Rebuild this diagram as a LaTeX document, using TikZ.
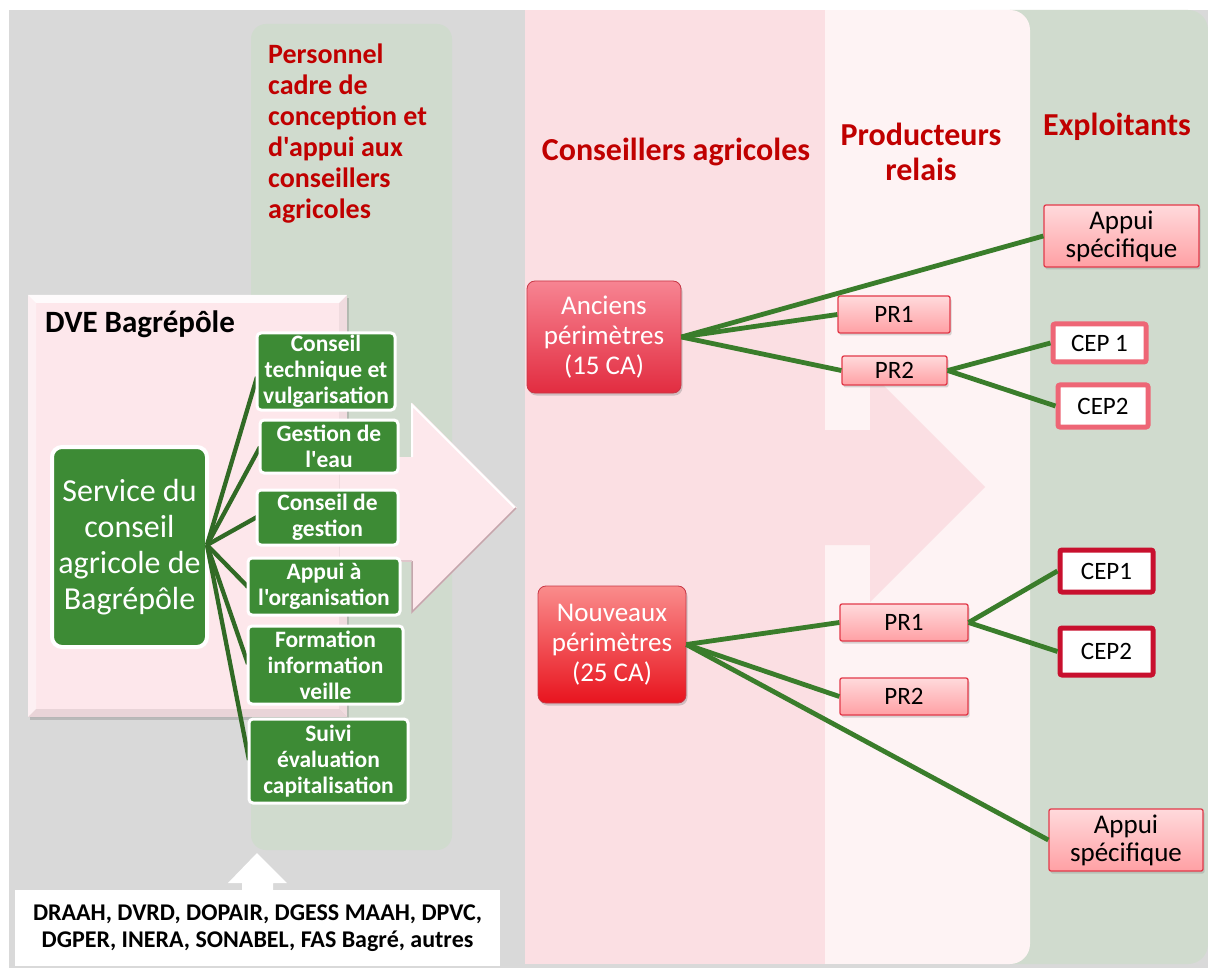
\documentclass[tikz,border=0pt]{standalone}
\usepackage{fontspec}
\setmainfont{Carlito}[Ligatures=TeXOff]
\usetikzlibrary{shadows}
\definecolor{bggrey}{RGB}{217,217,217}
\definecolor{sage}{RGB}{208,219,206}
\definecolor{pinkcol}{RGB}{251,223,227}
\definecolor{lightcol}{RGB}{254,243,244}
\definecolor{headred}{RGB}{192,0,0}
\definecolor{boxgreen}{RGB}{61,139,53}
\definecolor{linegreen}{RGB}{58,125,43}
\definecolor{dvepink}{RGB}{253,231,235}
\definecolor{arrowpink}{RGB}{253,232,236}
\definecolor{arrowedge}{RGB}{196,166,172}
\definecolor{anctop}{RGB}{247,132,146}
\definecolor{ancbot}{RGB}{226,44,64}
\definecolor{noutop}{RGB}{250,140,140}
\definecolor{noubot}{RGB}{232,20,30}
\definecolor{caedge}{RGB}{200,55,70}
\definecolor{prtop}{RGB}{255,218,220}
\definecolor{prbot}{RGB}{255,160,164}
\definecolor{predge}{RGB}{226,58,74}
\definecolor{ceplight}{RGB}{238,102,118}
\definecolor{cepdark}{RGB}{200,16,46}
\newcommand\fs[2]{\fontsize{#1}{#2}\selectfont}
\begin{document}
\begin{tikzpicture}[x=1pt,y=-1pt,
  gbox/.style={draw=white, line width=3pt, fill=boxgreen, rounded corners=4pt, text=white,
    font=\bfseries\fs{23.5}{26}, align=center, inner sep=0pt},
  head/.style={text=headred, font=\bfseries\fs{32}{35}, align=center, inner sep=0pt},
  ca/.style={rounded corners=8pt, text=white, font=\fs{27}{30}, align=center, draw=caedge,
    line width=0.8pt, inner sep=0pt, drop shadow={shadow xshift=1.5pt, shadow yshift=-2.5pt, opacity=0.35}},
  anc/.style={ca, top color=anctop, bottom color=ancbot},
  nou/.style={ca, top color=noutop, bottom color=noubot},
  prbox/.style={rounded corners=2pt, draw=predge, line width=1.3pt, top color=prtop, bottom color=prbot,
    font=\fs{25}{28}, align=center, inner sep=0pt,
    drop shadow={shadow xshift=1.5pt, shadow yshift=-2.5pt, opacity=0.3}},
  cepa/.style={draw=ceplight, line width=5pt, fill=white, rounded corners=2pt, font=\fs{25}{28}, inner sep=0pt},
  cepb/.style={draw=cepdark, line width=5pt, fill=white, rounded corners=2pt, font=\fs{25}{28}, inner sep=0pt},
  conn/.style={draw=linegreen, line width=4.8pt},
  lconn/.style={draw=linegreen!85!black, line width=4.3pt}
]
\useasboundingbox (0,0) rectangle (1208,968);
\fill[white] (0,0) rectangle (1208,968);
\fill[bggrey] (9,10) rectangle (1208,968);
% columns
\fill[sage, rounded corners=15pt] (251,24) rectangle (452,850);
\fill[sage, rounded corners=20pt] (990,10) rectangle (1208,964);
\fill[pinkcol] (525,10) rectangle (830,964);
\fill[lightcol] (825,10) rectangle (1000,964);
\fill[lightcol, rounded corners=20pt] (950,10) rectangle (1030,964);
\fill[pinkcol] (824,430) -- (870,430) -- (870,372) -- (985,487) -- (870,602) -- (870,545) -- (824,545) -- cycle;

% headings
\node[anchor=north west, text=headred, font=\bfseries\fs{28}{31}, align=left, inner sep=0pt] (perso) at (268,44)
  {Personnel\\cadre de\\conception et\\d'appui aux\\conseillers\\agricoles};
\node[head] (hca) at (676,152) {Conseillers agricoles};
\node[head] (hpr) at (921,152) {Producteurs\\relais};
\node[head] (hex) at (1117,127) {Exploitants};

% DVE box
\node[fill=dvepink, minimum width=319pt, minimum height=422pt, inner sep=0pt,
  drop shadow={shadow xshift=2pt, shadow yshift=-3pt, opacity=0.35}] (dve) at (187.5,506) {};
\fill[white, opacity=.85] (28,295) -- (347,295) -- (339,303) -- (36,303) -- cycle;
\fill[white, opacity=.4] (28,295) -- (36,303) -- (36,709) -- (28,717) -- cycle;
\fill[black, opacity=.05] (347,295) -- (339,303) -- (339,709) -- (347,717) -- cycle;
\fill[black, opacity=.08] (28,717) -- (36,709) -- (339,709) -- (347,717) -- cycle;
\node[anchor=west, font=\bfseries\fs{31}{34}, inner sep=0pt] (dvelabel) at (45,324) {DVE Bagrépôle};

% big arrow
\fill[arrowpink] (340,457) -- (412,457) -- (412,403) -- (517,508) -- (412,613) -- (412,560) -- (340,560) -- cycle;
\draw[white, line width=2pt] (412,457) -- (412,405) -- (515,508);
\draw[arrowedge, line width=1.5pt] (516,508) -- (412,612) -- (412,561);
\draw[arrowedge!50!arrowpink, line width=2pt] (412,561) -- (340,561);

% service box
\node[draw=white, line width=4pt, fill=boxgreen, rounded corners=10pt, text=white, font=\fs{32}{36},
  align=center, minimum width=155pt, minimum height=200pt, inner sep=0pt] (svc) at (129.5,547)
  {Service du\\conseil\\agricole de\\Bagrépôle};

% green boxes (positions)
\coordinate (g1) at (326,371.5);
\coordinate (g2) at (329,446.5);
\coordinate (g3) at (327.5,517.5);
\coordinate (g4) at (324,586.5);
\coordinate (g5) at (325.5,665);
\coordinate (g6) at (328.5,761);
\coordinate (hub) at (207,545);
\draw[lconn] (hub) -- (257,377);
\draw[lconn] (hub) -- (260,447);
\draw[lconn] (hub) -- (257,517);
\draw[lconn] (hub) -- (248,587);
\draw[lconn] (hub) -- (248,664);
\draw[lconn] (hub) -- (249,760);
\node[gbox, minimum width=138pt, minimum height=77pt] (b1) at (g1) {Conseil\\technique et\\vulgarisation};
\node[gbox, minimum width=138pt, minimum height=53pt] (b2) at (g2) {Gestion de\\l'eau};
\node[gbox, minimum width=141pt, minimum height=55pt] (b3) at (g3) {Conseil de\\gestion};
\node[gbox, minimum width=152pt, minimum height=57pt] (b4) at (g4) {Appui à\\l'organisation};
\node[gbox, minimum width=155pt, minimum height=78pt] (b5) at (g5) {Formation\\information\\veille};
\node[gbox, minimum width=159pt, minimum height=84pt] (b6) at (g6) {Suivi\\évaluation\\capitalisation};

% bottom organisations
\fill[white] (228,883) -- (257,853) -- (287,883) -- (273,883) -- (273,891) -- (242,891) -- (242,883) -- cycle;
\node[fill=white, minimum width=485pt, minimum height=76pt, inner sep=0pt, font=\bfseries\fs{24}{27}, align=center]
  (orgs) at (257.5,928) {DRAAH, DVRD, DOPAIR, DGESS MAAH, DPVC,\\DGPER, INERA, SONABEL, FAS Bagré, autres};

% right side nodes
\node[anc, minimum width=154pt, minimum height=112pt] (anc) at (604,337) {Anciens\\périmètres\\(15 CA)};
\node[nou, minimum width=148pt, minimum height=117pt] (nou) at (612,644.5) {Nouveaux\\périmètres\\(25 CA)};
\node[prbox, minimum width=112pt, minimum height=37pt] (pr1a) at (894,314.5) {PR1};
\node[prbox, minimum width=105pt, minimum height=29pt] (pr2a) at (894.5,370.5) {PR2};
\node[prbox, minimum width=128pt, minimum height=37pt] (pr1b) at (904,622.5) {PR1};
\node[prbox, minimum width=128pt, minimum height=37pt] (pr2b) at (904,696.5) {PR2};
\node[prbox, font=\fs{27}{28}, minimum width=155pt, minimum height=62pt] (apa) at (1121.5,236) {Appui\\spécifique};
\node[prbox, font=\fs{27}{28}, minimum width=154pt, minimum height=62pt] (apb) at (1126,840) {Appui\\spécifique};
\node[cepa, minimum width=93pt, minimum height=38pt] (cep1a) at (1099.5,343) {CEP 1};
\node[cepa, minimum width=90pt, minimum height=42pt] (cep2a) at (1103,406) {CEP2};
\node[cepb, minimum width=93pt, minimum height=42pt] (cep1b) at (1106.5,571) {CEP1};
\node[cepb, minimum width=93pt, minimum height=47pt] (cep2b) at (1106.5,651.5) {CEP2};

% connectors
\draw[conn] (anc.east) -- (apa.west);
\draw[conn] (anc.east) -- (pr1a.west);
\draw[conn] (anc.east) -- (pr2a.west);
\draw[conn] (pr2a.east) -- (cep1a.west);
\draw[conn] (pr2a.east) -- (cep2a.west);
\draw[conn] (nou.east) -- (pr1b.west);
\draw[conn] (nou.east) -- (pr2b.west);
\draw[conn] (nou.east) -- (apb.west);
\draw[conn] (pr1b.east) -- (cep1b.west);
\draw[conn] (pr1b.east) -- (cep2b.west);
\end{tikzpicture}
\end{document}
